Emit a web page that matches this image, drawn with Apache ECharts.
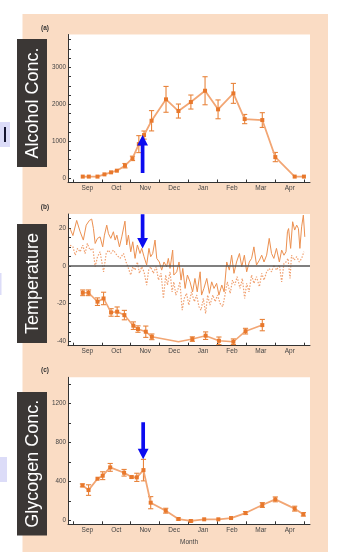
<!DOCTYPE html>
<html><head><meta charset="utf-8">
<script src="https://cdn.jsdelivr.net/npm/echarts@6/dist/echarts.min.js"></script>
<style>html,body{margin:0;padding:0;background:#fff;}#c{width:339px;height:552px;}</style>
</head><body><div id="c"></div>
<script>
// ---------- data ----------
const months = ['Sep','Oct','Nov','Dec','Jan','Feb','Mar','Apr'];
const monthTicks = [0,1,2,3,4,5,6,7,8];
const monthLabelPos = [0.5,1.5,2.5,3.5,4.5,5.5,6.5,7.5];

// (a) alcohol (glycerol) concentration, x in months since 1 Sep
const alcX = [0.34,0.55,0.85,1.09,1.32,1.52,1.80,2.06,2.28,2.46,2.72,3.22,3.65,4.08,4.57,5.02,5.55,5.94,6.55,7.00,7.67,7.99];
const alcY = [40,40,40,100,155,200,335,534,920,1165,1553,2133,1816,2060,2366,1862,2295,1599,1572,569,40,40];
const alcErr = [0,0,0,0,0,0,60,60,230,110,275,350,190,190,380,255,270,125,200,125,0,0];

// (b) temperature: daily max (solid), daily min (dotted), and lower series with error bars
const tMaxX = [-0.10,0.00,0.13,0.25,0.36,0.46,0.57,0.65,0.71,0.77,0.85,0.94,1.03,1.09,1.17,1.23,1.31,1.40,1.46,1.52,1.61,1.69,1.80,1.86,1.92,2.00,2.07,2.15,2.23,2.32,2.38,2.46,2.55,2.63,2.69,2.76,2.84,2.90,2.99,3.07,3.15,3.24,3.30,3.36,3.45,3.49,3.59,3.67,3.74,3.80,3.88,3.96,4.05,4.14,4.22,4.30,4.40,4.45,4.53,4.63,4.72,4.80,4.88,4.97,5.05,5.15,5.23,5.32,5.41,5.49,5.57,5.66,5.76,5.84,5.93,6.01,6.10,6.18,6.26,6.35,6.45,6.53,6.61,6.70,6.79,6.87,6.95,7.04,7.14,7.22,7.30,7.37,7.42,7.46,7.53,7.60,7.67,7.74,7.80,7.85,7.91,7.97,8.02];
const tMaxY = [19.7,16,24,18,13.6,21.5,24,24.7,19.7,11.8,14.5,15.3,10,16.2,21.5,17,14.5,18,13.6,16.2,10,15.3,23.6,11,16.2,7.4,12.7,3.9,11,6.5,9.2,4.8,0.4,9.2,4.8,6.5,13.6,3.9,2,-2.3,2,-0.5,3.9,-1.4,8.3,-4.9,-3.2,2,-7.6,-1.4,-12,-4.9,-8.5,-13.8,-6.7,-13.8,-3.2,-15.5,-12,-6.7,-14.6,-8.5,-12,-9.3,-15.5,-10.2,-13.8,2,-2.3,5.6,-4,2,6.5,-0.5,5.6,-3.2,2,3.9,10,0.4,3,5.6,2,5.6,14.5,6.5,3.9,9.2,2,8.3,5.6,7.4,18,19.7,9.2,23.3,18.9,21.5,19.7,9.2,20.6,26.8,15.3];
const tMinX = [-0.10,0.00,0.08,0.16,0.25,0.34,0.42,0.50,0.59,0.69,0.77,0.85,0.94,1.06,1.15,1.23,1.31,1.40,1.52,1.63,1.75,1.84,1.92,2.00,2.07,2.15,2.23,2.30,2.38,2.46,2.55,2.62,2.69,2.78,2.88,2.96,3.05,3.13,3.21,3.27,3.36,3.43,3.49,3.56,3.64,3.70,3.78,3.85,3.93,4.01,4.10,4.20,4.28,4.36,4.43,4.51,4.59,4.66,4.74,4.84,4.92,5.00,5.09,5.18,5.26,5.34,5.44,5.52,5.60,5.68,5.78,5.86,5.94,6.01,6.09,6.18,6.26,6.35,6.45,6.53,6.61,6.70,6.79,6.87,6.95,7.04,7.14,7.22,7.30,7.37,7.44,7.51,7.56,7.65,7.74,7.83,7.91,7.99];
const tMinY = [10.9,10,5.6,9.2,7.4,10.9,6.5,11.8,8.3,9.2,-0.5,4.8,7.4,-3.2,6.5,8.3,6.5,8.3,5.6,3.9,6.5,2,-1.4,-4.9,-0.5,-2.3,2,-4,-0.5,-3.2,-10.2,-2.3,-0.5,-4,-0.5,-7.6,-4,-17.3,-4.9,-10.2,-3.2,-13.8,-8.5,-15.5,-12,-8.5,-23.5,-17.3,-14.6,-20.8,-13.8,-19,-15.5,-21.7,-23.5,-17.3,-25.2,-15.5,-20.8,-15.5,-19,-15.5,-19.9,-21.7,-15.5,-8.5,-14.6,-7.6,-10.2,-5.8,-12,-6.7,-17.3,-9.3,-13.8,-4.9,-9.3,-5.8,-11.1,-4,-7.6,-3.2,-1.4,-3.2,0.4,-2.3,0.4,-8.5,1.2,2,3.9,-6.7,5.6,3,4.8,2,3.9,7.4];
const scpX = [0.34,0.54,0.85,1.06,1.32,1.53,1.78,2.09,2.25,2.52,2.73,3.65,4.13,4.59,5.05,5.55,5.97,6.55];
const scpY = [-14.3,-14.3,-19,-17.3,-24.7,-24.3,-26.1,-31.7,-33.5,-34.9,-37.6,-40.2,-38.8,-37,-39.7,-40.2,-34.6,-31.4];
const scpErr = [1.5,1.5,2,3.3,2,2.5,2.5,2,1.7,3,1.5,0,1.2,2,2,1.5,1.5,3];
const scpNoMarker = [3.65];

// (c) glycogen concentration
const glyX = [0.33,0.54,0.85,1.03,1.29,1.77,2.03,2.21,2.44,2.69,3.21,3.65,4.08,4.54,5.03,5.47,5.97,6.55,7.00,7.67,7.97];
const glyY = [361,313,429,460,545,490,446,443,517,184,102,17,-3,14,14,27,78,160,218,123,65];
const glyErr = [15,54,0,40,40,34,10,42,110,62,25,10,8,0,0,0,15,25,25,25,18];

// tick sets
const alcTicks = [0,250,500,750,1000,1250,1500,1750,2000,2250,2500,2750,3000,3250,3500,3750];
const alcLabels = [0,1000,2000,3000];
const tempTicks = [-40,-35,-30,-25,-20,-15,-10,-5,0,5,10,15,20,25];
const tempLabels = [-40,-20,0,20];
const glyTicks = [0,200,400,600,800,1000,1200,1400];
const glyLabels = [0,400,800,1200];

// arrows: [panel, month, tailValue, tipValue]
const arrows = [[0,2.41,140,1170],[1,2.41,27.3,9.2],[2,2.43,1006,628]];

// ---------- styles ----------
const FONT = "'Liberation Sans', Arial, sans-serif";
const lineCol = '#f2a674', markCol = '#e8782c', errCol = '#e8843c';
const axisCol = '#333', labCol = '#444';

const zip = (xs, ys) => xs.slice(0, Math.min(xs.length, ys.length)).map((x,i)=>[x, ys[i]]);
const zip3 = (xs, ys, es) => xs.map((x,i)=>[x, ys[i], es[i]]);

function errRender(params, api){
  const x = api.value(0), y = api.value(1), e = api.value(2);
  if (!e) return {type:'group', children:[]};
  const t = api.coord([x, y+e]), b = api.coord([x, y-e]);
  const w = 2.6;
  const style = {stroke: errCol, lineWidth: 1.1, fill: null};
  return {type:'group', children:[
    {type:'line', shape:{x1:t[0],y1:t[1],x2:b[0],y2:b[1]}, style},
    {type:'line', shape:{x1:t[0]-w,y1:t[1],x2:t[0]+w,y2:t[1]}, style},
    {type:'line', shape:{x1:b[0]-w,y1:b[1],x2:b[0]+w,y2:b[1]}, style}
  ]};
}

const grids = [
  {left:68, right:29, top:34.5, height:148},
  {left:68, right:29, top:214, height:131.7},
  {left:68, right:29, top:377.3, height:147}
].map(g => Object.assign(g, {show:true, backgroundColor:'#fff', borderWidth:0, containLabel:false}));

function xAxis(i){
  return {
    type:'value', gridIndex:i, min:-0.17, max:8.2,
    axisLine:{show:true, onZero:false, lineStyle:{color:axisCol, width:1}},
    axisTick:{show:true, inside:true, length:3, customValues:monthTicks, lineStyle:{color:axisCol}},
    axisLabel:{show:true, customValues:monthLabelPos, margin:2.5, fontSize:6.5, color:labCol, fontFamily:FONT,
      formatter: v => months[Math.floor(v)] || ''},
    splitLine:{show:false},
    name: i===2 ? 'Month' : '', nameLocation:'middle', nameGap:14,
    nameTextStyle:{fontSize:6.5, color:labCol, fontFamily:FONT}
  };
}
function yAxis(i, min, max, ticks, labels, name, gap){
  return {
    type:'value', gridIndex:i, min, max,
    axisLine:{show:true, onZero:false, lineStyle:{color:axisCol, width:1}},
    axisTick:{show:true, inside:true, length:3, customValues:ticks, lineStyle:{color:axisCol}},
    axisLabel:{show:true, customValues:labels, margin:2, fontSize:6.3, color:labCol, fontFamily:FONT,
      formatter: v => String(v)},
    splitLine:{show:false},
    name, nameLocation:'middle', nameGap:gap, nameRotate:90,
    nameTextStyle:{fontSize:5, color:'#555', fontFamily:FONT}
  };
}

const option = {
  animation:false,
  backgroundColor:'#fff',
  grid: grids,
  xAxis:[xAxis(0), xAxis(1), xAxis(2)],
  yAxis:[
    yAxis(0, -120, 3890, alcTicks, alcLabels, 'Glycerol concentration (µmol g⁻¹)', 17),
    yAxis(1, -42.3, 27.4, tempTicks, tempLabels, 'Temperature (°C)', 22),
    yAxis(2, -37, 1466, glyTicks, glyLabels, 'Glycogen concentration (µmol g⁻¹)', 19)
  ],
  series:[
    {type:'line', xAxisIndex:0, yAxisIndex:0, data:zip(alcX, alcY), symbol:'rect', symbolSize:4,
      lineStyle:{color:lineCol, width:1.8}, itemStyle:{color:markCol}, z:3},
    {type:'custom', xAxisIndex:0, yAxisIndex:0, data:zip3(alcX, alcY, alcErr), renderItem:errRender, encode:{x:0,y:1}, z:2},

    {type:'line', xAxisIndex:1, yAxisIndex:1, data:zip(tMinX, tMinY), symbol:'none',
      lineStyle:{color:'#f0a070', width:1.2, type:[1.5,1.5]}, z:2},
    {type:'line', xAxisIndex:1, yAxisIndex:1, data:zip(tMaxX, tMaxY), symbol:'none',
      lineStyle:{color:'#ec9050', width:1}, z:3,
      markLine:{silent:true, symbol:'none', label:{show:false},
        lineStyle:{color:'#555', width:1.5, type:'solid'}, data:[{yAxis:0}]}},
    {type:'line', xAxisIndex:1, yAxisIndex:1,
      data: zip(scpX, scpY).map(p => scpNoMarker.indexOf(p[0])>=0 ? {value:p, symbol:'none'} : p),
      symbol:'rect', symbolSize:4, lineStyle:{color:lineCol, width:1.6}, itemStyle:{color:markCol}, z:4},
    {type:'custom', xAxisIndex:1, yAxisIndex:1, data:zip3(scpX, scpY, scpErr), renderItem:errRender, encode:{x:0,y:1}, z:3},

    {type:'line', xAxisIndex:2, yAxisIndex:2, data:zip(glyX, glyY), symbol:'rect', symbolSize:4,
      lineStyle:{color:lineCol, width:1.8}, itemStyle:{color:markCol}, z:3},
    {type:'custom', xAxisIndex:2, yAxisIndex:2, data:zip3(glyX, glyY, glyErr), renderItem:errRender, encode:{x:0,y:1}, z:2}
  ]
};

const chart = echarts.init(document.getElementById('c'), null, {renderer:'canvas'});
chart.setOption(option);

// ---------- decorations ----------
const g = [];
g.push({type:'rect', z:-100, shape:{x:22.5, y:14, width:305.5, height:538}, style:{fill:'#fadcc4'}});
// lavender strips at left edge
g.push({type:'rect', z:100, shape:{x:0, y:122, width:10, height:25}, style:{fill:'#dcdcf8'}});
g.push({type:'rect', z:101, shape:{x:4, y:127, width:2, height:15}, style:{fill:'#151530'}});
g.push({type:'rect', z:100, shape:{x:0, y:273, width:1.5, height:22}, style:{fill:'#dcdcf8'}});
g.push({type:'rect', z:100, shape:{x:0, y:457, width:7, height:25}, style:{fill:'#dcdcf8'}});
// dark title boxes
const boxes = [
  {y:39, h:128, text:'Alcohol Conc.'},
  {y:224, h:119, text:'Temperature'},
  {y:392, h:143.5, text:'Glycogen Conc.'}
];
boxes.forEach(b => {
  g.push({type:'rect', z:100, shape:{x:17, y:b.y, width:30, height:b.h}, style:{fill:'#3b3735'}});
  g.push({type:'text', z:101, x:33, y:b.y + b.h/2, rotation:Math.PI/2,
    style:{text:b.text, fill:'#fff', font:"18px " + FONT, align:'center', verticalAlign:'middle'}});
});
// panel letters
[['(a)',28.5],['(b)',207.5],['(c)',370.5]].forEach(p => {
  g.push({type:'text', z:50, x:45, y:p[1],
    style:{text:p[0], fill:'#333', font:"bold 6.5px " + FONT, align:'center', verticalAlign:'middle'}});
});
// arrows placed through the axes' scales
arrows.forEach(a => {
  const p0 = chart.convertToPixel({gridIndex:a[0]}, [a[1], a[2]]);
  const p1 = chart.convertToPixel({gridIndex:a[0]}, [a[1], a[3]]);
  const dir = p1[1] > p0[1] ? 1 : -1;
  const hl = 10.5, hw = 5.4, sw = 1.85, cx = p1[0];
  const by = p1[1] - dir*hl;
  g.push({type:'polygon', z:120, shape:{points:[[cx-sw,p0[1]],[cx+sw,p0[1]],[cx+sw,by],[cx+hw,by],[cx,p1[1]],[cx-hw,by],[cx-sw,by]]},
    style:{fill:'#0c0cf0'}});
});
chart.setOption({graphic: g});
</script>
</body></html>
